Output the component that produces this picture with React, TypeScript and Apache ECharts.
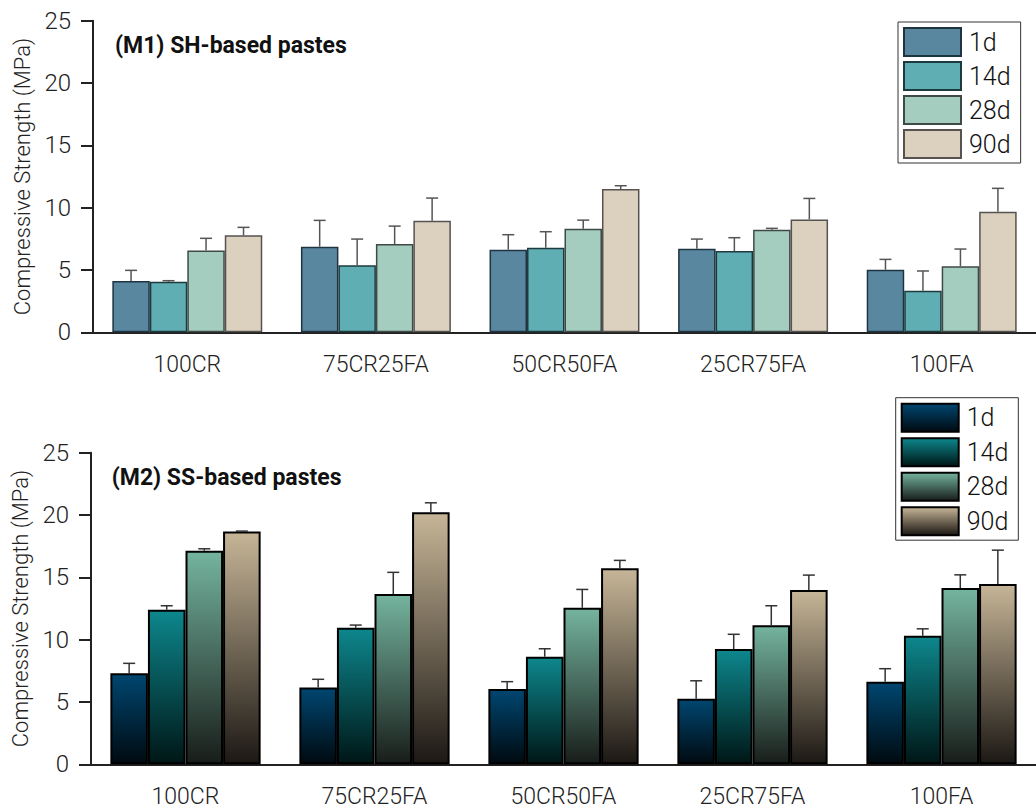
import React, { useEffect, useRef } from "react";
import * as echarts from "echarts";

const categories = ["100CR", "75CR25FA", "50CR50FA", "25CR75FA", "100FA"];
const ages = ["1d", "14d", "28d", "90d"];
const yTicks = [0, 5, 10, 15, 20, 25];

// (M1) SH-based pastes: mean values and standard deviations
const m1_1d = [4.11, 6.87, 6.63, 6.71, 5.02];
const m1_14d = [4.06, 5.37, 6.79, 6.52, 3.34];
const m1_28d = [6.57, 7.08, 8.31, 8.23, 5.29];
const m1_90d = [7.78, 8.95, 11.49, 9.06, 9.67];
const m1_1d_sd = [0.86, 2.11, 1.2, 0.77, 0.83];
const m1_14d_sd = [0.08, 2.11, 1.28, 1.07, 1.58];
const m1_28d_sd = [0.97, 1.44, 0.69, 0.11, 1.39];
const m1_90d_sd = [0.64, 1.82, 0.27, 1.68, 1.88];

// (M2) SS-based pastes
const m2_1d = [7.3, 6.17, 6.04, 5.26, 6.63];
const m2_14d = [12.4, 10.96, 8.63, 9.25, 10.31];
const m2_28d = [17.13, 13.66, 12.56, 11.15, 14.14];
const m2_90d = [18.68, 20.23, 15.72, 13.98, 14.46];
const m2_1d_sd = [0.8, 0.65, 0.59, 1.44, 1.04];
const m2_14d_sd = [0.32, 0.21, 0.64, 1.18, 0.56];
const m2_28d_sd = [0.16, 1.74, 1.47, 1.57, 1.06];
const m2_90d_sd = [0.03, 0.75, 0.64, 1.2, 2.72];

const FONT = "Roboto, 'DejaVu Sans', sans-serif";
const GAP = 0.205;

const grad = (top: string, bottom: string) =>
  new echarts.graphic.LinearGradient(0, 0, 0, 1, [
    { offset: 0, color: top },
    { offset: 1, color: bottom },
  ]);

function buildOption(cfg: {
  title: string;
  titleX: number;
  titleY: number;
  gridLeft: number;
  gridTop: number;
  gridHeight: number;
  legendLeft: number;
  legendTop: number;
  legendGap: number;
  values: number[][];
  sds: number[][];
  fills: any[];
  borders: string[];
  borderWidth: number;
  errColor: string;
}) {
  const barSeries = ages.map((a, k) => ({
    name: a,
    type: "bar",
    data: cfg.values[k],
    barGap: "0%",
    barCategoryGap: GAP * 100 + "%",
    itemStyle: {
      color: cfg.fills[k],
      borderColor: cfg.borders[k],
      borderWidth: cfg.borderWidth,
    },
    z: 2,
  }));
  const errSeries = ages.map((a, k) => ({
    name: "err" + a,
    type: "custom",
    z: 3,
    data: cfg.values[k].map((v, i) => [i, v, v + cfg.sds[k][i]]),
    encode: { x: 0, y: 2 },
    renderItem: (params: any, api: any) => {
      const ci = api.value(0);
      const v = api.value(1);
      const t = api.value(2);
      const p0 = api.coord([ci, v]);
      const p1 = api.coord([ci, t]);
      const band = api.size([1, 0])[0];
      const bw = (band * (1 - GAP)) / 4;
      const x = p0[0] + (k - 1.5) * bw;
      const style = { stroke: cfg.errColor, lineWidth: 1.5 };
      return {
        type: "group",
        children: [
          { type: "line", shape: { x1: x, y1: p0[1], x2: x, y2: p1[1] }, style },
          { type: "line", shape: { x1: x - 6, y1: p1[1], x2: x + 6, y2: p1[1] }, style },
        ],
      };
    },
  }));
  return {
    animation: false,
    backgroundColor: "#ffffff",
    textStyle: { fontFamily: FONT },
    grid: {
      left: cfg.gridLeft,
      top: cfg.gridTop,
      width: 950,
      height: cfg.gridHeight,
      containLabel: false,
    },
    legend: {
      data: ages,
      orient: "vertical",
      left: cfg.legendLeft,
      top: cfg.legendTop,
      itemWidth: 57,
      itemHeight: 28,
      itemGap: cfg.legendGap,
      icon: "rect",
      padding: [5, 10, 4, 5],
      borderColor: "#333",
      borderWidth: 1,
      backgroundColor: "#fff",
      textStyle: { fontSize: 25, fontWeight: 300, color: "#111", fontFamily: FONT, padding: [0, 0, 0, 3] },
    },
    graphic: [
      {
        type: "text",
        x: cfg.titleX,
        y: cfg.titleY,
        style: {
          text: cfg.title,
          font: "bold 23px " + FONT,
          fill: "#111",
          textVerticalAlign: "middle",
        },
      },
    ],
    xAxis: {
      type: "category",
      data: categories,
      axisLine: { lineStyle: { color: "#222", width: 2 } },
      axisTick: { alignWithLabel: true, length: 12, lineStyle: { color: "#222", width: 2 } },
      axisLabel: { fontSize: 23, fontWeight: 300, color: "#222", margin: 21, fontFamily: FONT },
    },
    yAxis: {
      type: "value",
      min: yTicks[0],
      max: yTicks[yTicks.length - 1],
      interval: 5,
      name: "Compressive Strength (MPa)",
      nameLocation: "middle",
      nameGap: 58,
      nameTextStyle: { fontSize: 22, fontWeight: 300, color: "#222", fontFamily: FONT },
      splitLine: { show: false },
      axisLine: { show: true, lineStyle: { color: "#222", width: 2 } },
      axisTick: { show: true, length: 12, lineStyle: { color: "#222", width: 2 } },
      axisLabel: { fontSize: 24, fontWeight: 300, color: "#222", margin: 22, fontFamily: FONT, padding: [6, 0, 0, 0] },
    },
    series: [...barSeries, ...errSeries],
  };
}

export default function App() {
  const topRef = useRef<HTMLDivElement>(null);
  const botRef = useRef<HTMLDivElement>(null);

  useEffect(() => {
    document.body.style.margin = "0";
    const c1 = echarts.init(topRef.current!, undefined, { renderer: "svg" });
    const c2 = echarts.init(botRef.current!, undefined, { renderer: "svg" });
    c1.setOption(
      buildOption({
        title: "(M1) SH-based pastes",
        titleX: 115,
        titleY: 45,
        gridLeft: 93,
        gridTop: 20.7,
        gridHeight: 311.6,
        legendLeft: 898,
        legendTop: 22,
        legendGap: 4,
        values: [m1_1d, m1_14d, m1_28d, m1_90d],
        sds: [m1_1d_sd, m1_14d_sd, m1_28d_sd, m1_90d_sd],
        fills: ["#5a87a0", "#5faeb4", "#a4cdbf", "#dcd1bf"],
        borders: ["#1f3440", "#1d3b3e", "#3e4a46", "#555250"],
        borderWidth: 1.5,
        errColor: "#555",
      }) as any
    );
    c2.setOption(
      buildOption({
        title: "(M2) SS-based pastes",
        titleX: 111.7,
        titleY: 82,
        gridLeft: 91,
        gridTop: 57.7,
        gridHeight: 311.6,
        legendLeft: 895.7,
        legendTop: 2.7,
        legendGap: 4.5,
        values: [m2_1d, m2_14d, m2_28d, m2_90d],
        sds: [m2_1d_sd, m2_14d_sd, m2_28d_sd, m2_90d_sd],
        fills: [
          grad("#004670", "#000a10"),
          grad("#0d878d", "#001616"),
          grad("#74b49e", "#181d1a"),
          grad("#c6b597", "#1c1814"),
        ],
        borders: ["#000", "#000", "#000", "#000"],
        borderWidth: 2,
        errColor: "#333",
      }) as any
    );
    return () => {
      c1.dispose();
      c2.dispose();
    };
  }, []);

  return (
    <div style={{ position: "relative", width: 1036, height: 812, overflow: "hidden", background: "#fff" }}>
      <div ref={topRef} style={{ position: "absolute", left: 0, top: 0, width: 1036, height: 395 }} />
      <div ref={botRef} style={{ position: "absolute", left: 0, top: 395, width: 1036, height: 417 }} />
    </div>
  );
}
